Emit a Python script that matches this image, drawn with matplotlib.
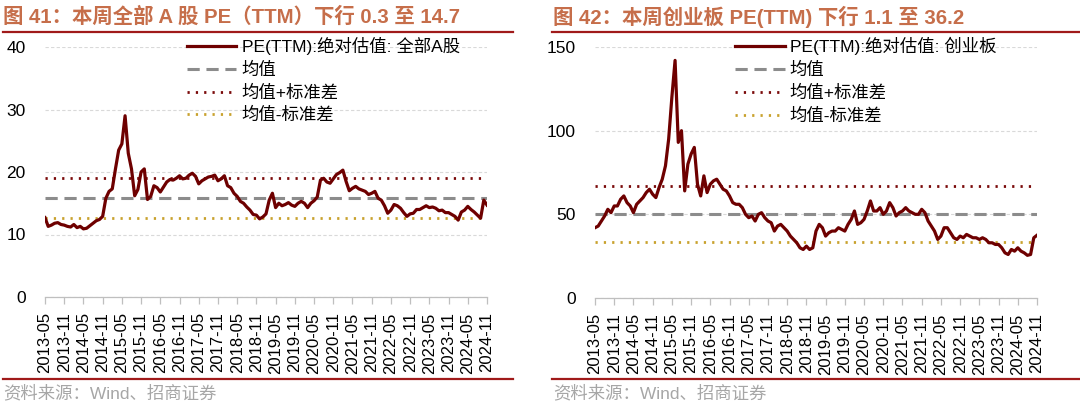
import matplotlib
matplotlib.use("Agg")
import matplotlib.pyplot as plt
from matplotlib.lines import Line2D
import numpy as np

plt.rcParams['font.family'] = ['Liberation Sans', 'Noto Sans CJK SC']

# ---------------- data (monthly, 2013-05 .. 2024-11) ----------------
tick_labels = ['2013-05', '2013-11', '2014-05', '2014-11', '2015-05', '2015-11',
               '2016-05', '2016-11', '2017-05', '2017-11', '2018-05', '2018-11',
               '2019-05', '2019-11', '2020-05', '2020-11', '2021-05', '2021-11',
               '2022-05', '2022-11', '2023-05', '2023-11', '2024-05', '2024-11']

pe_all_a = [12.7, 11.3, 11.5, 11.8, 11.9, 11.6, 11.5, 11.3,
            11.2, 11.6, 11.1, 11.3, 10.9, 11.0, 11.4, 11.8, 12.2, 12.4, 12.9, 15.8,
            16.9, 17.3, 20.5, 23.5, 24.5, 29.0, 23.0, 20.5, 16.2, 17.2, 20.0, 20.5,
            15.6, 16.1, 17.8, 17.5, 16.8, 17.6, 18.4, 18.8, 18.7, 19.0, 19.4, 18.9,
            19.0, 19.5, 19.8, 19.3, 18.1, 18.6, 18.9, 19.2, 19.3, 19.5, 18.6, 18.9,
            19.4, 17.8, 17.5, 16.6, 16.1, 15.3, 15.0, 14.4, 13.9, 13.2, 13.1, 12.5,
            12.8, 13.3, 15.5, 16.6, 14.3, 15.0, 14.6, 14.8, 15.1, 14.7, 14.5, 15.0,
            15.3, 15.0, 14.3, 15.0, 15.4, 16.0, 18.7, 19.0, 18.4, 18.2, 18.9, 19.6,
            19.9, 20.3, 18.5, 17.0, 17.4, 17.7, 17.3, 17.1, 16.9, 16.4, 16.6, 16.9,
            15.8, 15.5, 14.6, 13.4, 13.9, 14.8, 14.6, 14.2, 13.5, 12.9, 13.3, 13.4,
            14.0, 14.0, 14.3, 14.6, 14.3, 14.4, 14.2, 13.8, 13.9, 13.5, 13.5, 13.2,
            12.9, 12.3, 13.6, 13.9, 14.5, 14.0, 13.6, 13.1, 12.6, 15.5, 14.7]
all_a_mean, all_a_plus, all_a_minus = 15.9, 19.1, 12.7

pe_chinext = [42, 43, 46, 49, 53, 51, 55, 55,
              59, 61, 57, 55, 51, 56, 58, 60, 63, 65, 62, 60,
              66, 71, 79, 95, 120, 142, 93, 100, 64, 80, 86, 90,
              68, 61, 73, 63, 68, 70, 71, 68, 65, 64, 61, 57,
              56, 56, 54, 50, 48, 49, 46, 50, 51, 48, 46, 45,
              40, 43, 44, 42, 40, 37, 35, 33, 30, 29, 31, 29,
              30, 40, 44, 42, 37, 39, 40, 40, 42, 41, 40, 44,
              47, 52, 44, 45, 47, 52, 58, 52, 52, 54, 50, 52,
              57, 54, 49, 51, 52, 54, 52, 51, 50, 50, 53, 51,
              46, 43, 40, 35, 37, 42, 42, 39, 36, 35, 37, 36,
              38, 37, 36, 36, 35, 36, 35, 33, 33, 32, 32, 30,
              27, 26, 29, 28, 30, 28, 27, 25.5, 26, 36, 37.5]
chinext_mean, chinext_plus, chinext_minus = 50.0, 67.0, 33.3

titles = ['图 41：本周全部 A 股 PE（TTM）下行 0.3 至 14.7',
          '图 42：本周创业板 PE(TTM) 下行 1.1 至 36.2']
series_names = ['PE(TTM):绝对估值: 全部A股', 'PE(TTM):绝对估值: 创业板']
ref_names = ['均值', '均值+标准差', '均值-标准差']
source = '资料来源：Wind、招商证券'

# ---------------- styling ----------------
W, H = 1080, 407
LINE_C = '#6E0000'
MEAN_C = '#8C8C8C'
PLUS_C = '#7A0A0A'
MINUS_C = '#C9A22E'
TITLE_C = '#C66E4A'
RULE_C = '#A01A1A'
GRID_C = '#D9D9D9'
AX_C = '#BFBFBF'

fig = plt.figure(figsize=(W / 100, H / 100), dpi=100)


def fx(px):
    return px / W


def fy(py):
    return 1 - py / H


def panel(rect, vals, mean, plus, minus, ymax, yticks, name, leg_x):
    ax = fig.add_axes(rect)
    x = np.arange(len(vals))
    ax.set_axisbelow(True)
    ax.yaxis.grid(True, color=GRID_C, linestyle=(0, (3, 2)), linewidth=0.8)
    h1, = ax.plot(x, vals, color=LINE_C, lw=2.3, solid_joinstyle='round', zorder=5)
    h2 = ax.axhline(mean, color=MEAN_C, lw=2.2, linestyle=(0, (4, 2.2)), zorder=3)
    h3 = ax.axhline(plus, color=PLUS_C, lw=2.0, linestyle=(0, (0.8, 2.2)), zorder=3)
    h4 = ax.axhline(minus, color=MINUS_C, lw=2.0, linestyle=(0, (0.8, 2.2)), zorder=3)
    ax.set_xlim(0, len(vals) - 1)
    ax.set_ylim(0, ymax)
    ax.set_yticks(yticks)
    ax.set_yticklabels([str(t) for t in yticks])
    ax.set_xticks(x[::6])
    ax.set_xticklabels(tick_labels, rotation=90)
    for s in ['top', 'right', 'left']:
        ax.spines[s].set_visible(False)
    ax.spines['bottom'].set_color(AX_C)
    ax.spines['bottom'].set_linewidth(0.9)
    ax.tick_params(axis='y', length=0, pad=14, labelsize=12.5)
    ax.tick_params(axis='x', length=5, width=0.9, color=AX_C, pad=6, labelsize=12)
    ax.legend([h1, h2, h3, h4], [name] + ref_names, loc='upper left',
              bbox_to_anchor=(leg_x, 1.04), frameon=False, fontsize=12.5,
              handlelength=2.85, handletextpad=0.3, labelspacing=0.38,
              borderpad=0, borderaxespad=0)
    return ax


panel([fx(45), fy(297), fx(442), (297 - 47) / H], pe_all_a,
      all_a_mean, all_a_plus, all_a_minus, 40, [0, 10, 20, 30, 40],
      series_names[0], 0.321)
panel([fx(595), fy(298), fx(442), (298 - 47) / H], pe_chinext,
      chinext_mean, chinext_plus, chinext_minus, 150, [0, 50, 100, 150],
      series_names[1], 0.317)

# titles, rules and source notes
for x0, x1, tx, title in [(3, 513, 3, titles[0]), (552, 1080, 553, titles[1])]:
    fig.text(fx(tx), fy(17), title, fontsize=14.7, fontweight='bold',
             color=TITLE_C, ha='left', va='center')
    fig.add_artist(Line2D([fx(x0), fx(x1)], [fy(32), fy(32)], color=RULE_C, lw=1.6))
    fig.add_artist(Line2D([fx(x0), fx(x1)], [fy(379), fy(379)], color=RULE_C, lw=1.6))
    fig.text(fx(tx), fy(393), source, fontsize=12.5, color='#A6A6A6',
             ha='left', va='center')

fig.savefig('out.png', dpi=100)
